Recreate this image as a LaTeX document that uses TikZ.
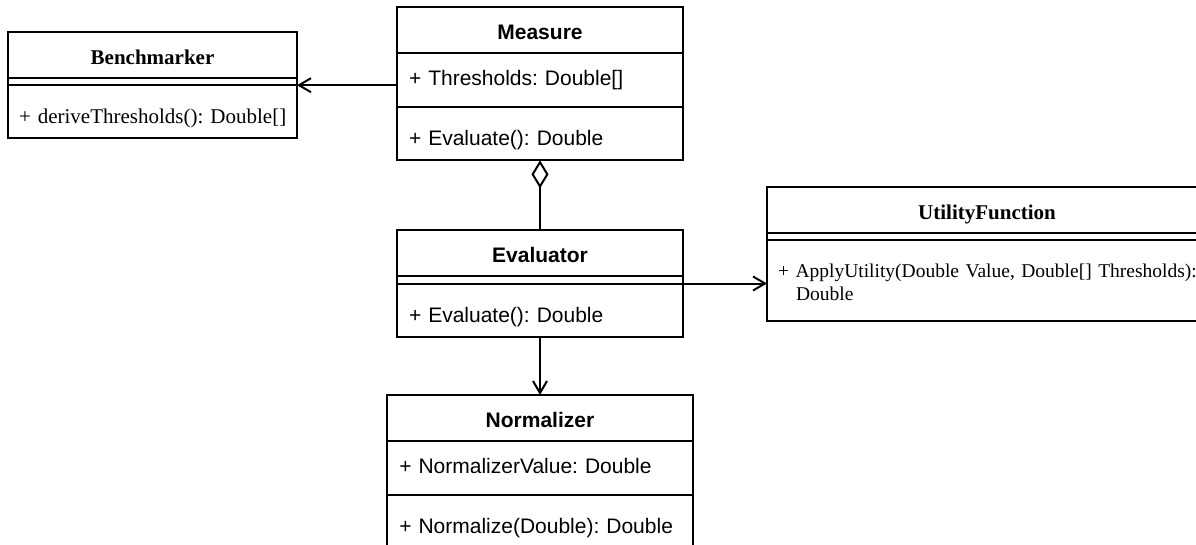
\documentclass[tikz,border=0pt]{standalone}
\usepackage{fontspec}
\setmainfont{Liberation Serif}
\setsansfont{Liberation Sans}
\usetikzlibrary{
  arrows.meta,
  positioning
}
\frenchspacing

\begin{document}
\begin{tikzpicture}[x=1pt,y=-1pt,
      font=\sffamily\fontsize{21}{25}\selectfont,
      serif/.style={font=\rmfamily\fontsize{21}{25}\selectfont},
      part/.style={draw, line width=2pt, inner sep=0pt, outer sep=0pt},
      classname/.style={part, minimum width=#1, minimum height=46pt,
         text height=19pt, text depth=0pt},
      member/.style={part, inner xsep=12pt, text width=#1, align=left,
         minimum height=54pt, text height=15pt, text depth=5pt},
      method/.style={part, inner xsep=12pt, text width=#1, align=left,
         minimum height=53pt, text height=24pt, text depth=0pt},
      nomember/.style={part, minimum width=#1, minimum height=7.5pt},
      assoc/.style={-{Straight Barb[length=12pt,width=14pt]}, line width=2pt},
      aggr/.style={-{Diamond[open,length=28pt,width=17pt]}, line width=2pt}
    ]
    \useasboundingbox (0,0) rectangle (1196,545);
    \clip (0,0) rectangle (1196,545);

    % classes
    \node (measure) [classname=286pt, anchor=north west] at (397,7.3) {\bfseries Measure};
    \node (measure-attr) [member=262pt, below=0pt of measure] {+ Thresholds: Double[]};
    \node (measure-ops) [method=262pt, below=0pt of measure-attr] {+ Evaluate(): Double};

    \node (bench) [classname=289pt, serif, anchor=north west] at (8,31.7) {\bfseries Benchmarker};
    \node (bench-attr) [nomember=289pt, below=0pt of bench] {};
    \node (bench-ops) [method=267pt, serif, inner xsep=11pt, below=0pt of bench-attr]
       {\mbox{+ deriveThresholds(): Double[]}};

    \node (eval) [classname=286pt, anchor=north west] at (397,230) {\bfseries Evaluator};
    \node (eval-attr) [nomember=286pt, below=0pt of eval] {};
    \node (eval-ops) [method=262pt, below=0pt of eval-attr] {+ Evaluate(): Double};

    \node (util) [classname=440pt, serif, anchor=north west] at (767,187) {\bfseries UtilityFunction};
    \node (util-attr) [nomember=440pt, below=0pt of util] {};
    \node (util-ops) [method=418pt, inner xsep=11pt, minimum height=80pt,
       font=\rmfamily\fontsize{19.5}{23.3}\selectfont, text height=15pt, text depth=21.6pt,
       below=0pt of util-attr]
       {\mbox{+ ApplyUtility(Double Value, Double[] Thresholds):}\\\hspace*{18pt}Double};

    \node (norm) [classname=305.4pt, anchor=north west] at (387.3,395) {\bfseries Normalizer};
    \node (norm-attr) [member=281.4pt, below=0pt of norm] {+ NormalizerValue: Double};
    \node (norm-ops) [method=281.4pt, below=0pt of norm-attr] {+ Normalize(Double): Double};

    % relations
    \draw[assoc] (measure-attr.west |- bench-ops.north) -- (bench-ops.north east);
    \draw[aggr] (eval.north) -- (measure-ops.south);
    \draw[assoc] (eval-ops.north east) -- (eval-ops.north east -| util-ops.west);
    \draw[assoc] (eval-ops.south) -- (norm.north);
\end{tikzpicture}
\end{document}
